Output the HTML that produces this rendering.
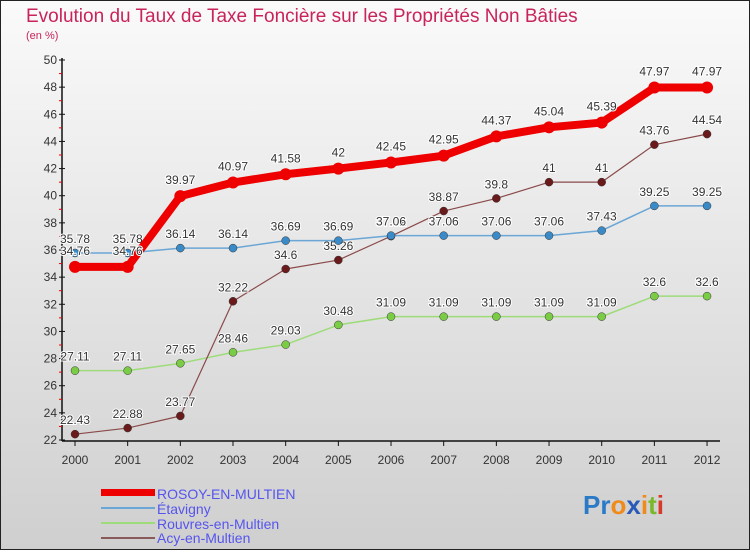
<!DOCTYPE html>
<html><head><meta charset="utf-8"><style>
body{margin:0}
#c{width:750px;height:550px;position:relative;font-family:"Liberation Sans",sans-serif}
svg text{font-family:"Liberation Sans",sans-serif}
</style></head><body>
<div id="c">
<svg id="s" width="750" height="550" xmlns="http://www.w3.org/2000/svg">
<defs><linearGradient id="bg" x1="0" y1="0" x2="0" y2="1"><stop offset="0" stop-color="#fafafa"/><stop offset="1" stop-color="#cfcfcf"/></linearGradient></defs>
<rect x="0.5" y="0.5" width="749" height="549" fill="url(#bg)" stroke="#222"/>
<text x="26" y="22" font-size="19" fill="#c8245a">Evolution du Taux de Taxe Foncière sur les Propriétés Non Bâties</text>
<text x="26" y="39" font-size="11" fill="#c8245a">(en %)</text>
<g id="axes"></g><g id="series"></g>
<g>
<rect x="101" y="489" width="54" height="7" fill="#e00"/>
<text x="157" y="499" font-size="14" fill="#5555ee">ROSOY-EN-MULTIEN</text>
<line x1="101" y1="508" x2="155" y2="508" stroke="#6aa6d6" stroke-width="2"/>
<text x="157" y="514" font-size="14" fill="#5555ee">Étavigny</text>
<line x1="101" y1="523" x2="155" y2="523" stroke="#9edc7a" stroke-width="2"/>
<text x="157" y="529" font-size="14" fill="#5555ee">Rouvres-en-Multien</text>
<line x1="101" y1="538" x2="155" y2="538" stroke="#8a5a5a" stroke-width="2"/>
<text x="157" y="543" font-size="14" fill="#5555ee">Acy-en-Multien</text>
</g>
<text x="583" y="514" font-size="26" font-weight="bold"><tspan fill="#2a7ac8">P</tspan><tspan fill="#2a7ac8">r</tspan><tspan fill="#f08a1a">o</tspan><tspan fill="#2a5ab8">x</tspan><tspan fill="#f08a1a">i</tspan><tspan fill="#7ab82a">t</tspan><tspan fill="#d83a2a">i</tspan></text>
</svg></div>
<script>
const years=[2000,2001,2002,2003,2004,2005,2006,2007,2008,2009,2010,2011,2012];
const rosoy=[34.76,34.76,39.97,40.97,41.58,42,42.45,42.95,44.37,45.04,45.39,47.97,47.97];
const etavigny=[35.78,35.78,36.14,36.14,36.69,36.69,37.06,37.06,37.06,37.06,37.43,39.25,39.25];
const rouvres=[27.11,27.11,27.65,28.46,29.03,30.48,31.09,31.09,31.09,31.09,31.09,32.6,32.6];
const acy=[22.43,22.88,23.77,32.22,34.6,35.26,37.02,38.87,39.8,41,41,43.76,44.54];
const yTicks=[22,24,26,28,30,32,34,36,38,40,42,44,46,48,50];
const NS='http://www.w3.org/2000/svg';
const x=i=>75+i*52.67;
const y=v=>440-(v-22)*(380/28);
function mk(tag,attrs,parent){const e=document.createElementNS(NS,tag);for(const k in attrs)e.setAttribute(k,attrs[k]);parent.appendChild(e);return e;}
const ax=document.getElementById('axes');
let yl=mk('line',{x1:62,y1:58,x2:62,y2:441,stroke:'#111','stroke-width':1.5},ax);


let xl=mk('line',{x1:62,y1:441,x2:720,y2:441,stroke:'#111','stroke-width':1.5},ax);


yTicks.forEach(t=>{
  mk('line',{x1:59,y1:y(t),x2:65,y2:y(t),stroke:'#111'},ax);
  if(t<50)mk('line',{x1:59,y1:y(t+1),x2:62,y2:y(t+1),stroke:'#e00'},ax);
  const tx=mk('text',{x:57,y:y(t)+4,'font-size':12,fill:'#333','text-anchor':'end'},ax);
  tx.textContent=t;
  
  
});
years.forEach((yr,i)=>{
  mk('line',{x1:x(i),y1:441,x2:x(i),y2:446,stroke:'#111'},ax);
  const tx=mk('text',{x:x(i),y:464,'font-size':12,fill:'#333','text-anchor':'middle'},ax);
  tx.textContent=yr;
  
  
});
const sg=document.getElementById('series');
function series(name,vals,color,lw,r,dot,ldy){
  const g=mk('g',{},sg);
  
  
  mk('polyline',{points:vals.map((v,i)=>x(i)+','+y(v)).join(' '),fill:'none',stroke:color,'stroke-width':lw,'stroke-linejoin':'round'},g);
  vals.forEach((v,i)=>{
    const c=mk('circle',{cx:x(i),cy:y(v),r:r,fill:dot,stroke:lw>3?'none':'#333','stroke-width':0.5},g);
    
    
    const t=mk('text',{x:x(i),y:y(v)+ldy,'font-size':12,fill:'#333','text-anchor':'middle',stroke:'#fff','stroke-width':2,'paint-order':'stroke'},g);
    t.textContent=v;
    
    
  });
}
series('rouvres-series',rouvres,'#9edc7a',1.5,4,'#7acc44',-10);
series('acy-series',acy,'#8a4a4a',1.2,4,'#6a1a1a',-10);
series('etavigny-series',etavigny,'#6aa6d6',1.5,4,'#3a8ac8',-10);
series('rosoy-series',rosoy,'#ee0000',8,6,'#ee0000',-12);
</script>
</body></html>
